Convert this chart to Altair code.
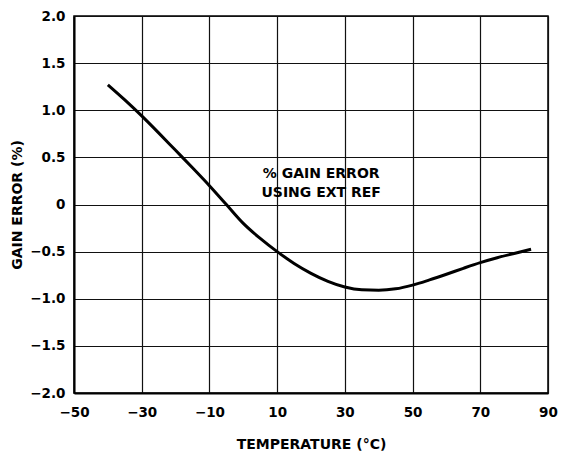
import altair as alt
import pandas as pd

# curve data
temps = [-40, -35, -30, -25, -20, -15, -10, -5, 0, 5, 10, 15, 20, 25, 30, 35, 40,
         45, 50, 55, 60, 65, 70, 75, 80, 85]
gain_err = [1.27, 1.11, 0.94, 0.76, 0.575, 0.39, 0.20, 0.0, -0.20, -0.36, -0.50,
            -0.625, -0.73, -0.815, -0.875, -0.905, -0.91, -0.895, -0.855, -0.80, -0.74,
            -0.677, -0.617, -0.565, -0.52, -0.475]

x_ticks = [-50, -30, -10, 10, 30, 50, 70, 90]
y_ticks = [-2.0, -1.5, -1.0, -0.5, 0.0, 0.5, 1.0, 1.5, 2.0]

note_lines = ["% GAIN ERROR", "USING EXT REF"]
note_x = [23, 23]
note_y = [0.32, 0.12]

FONT = "DejaVu Sans"

df = pd.DataFrame({"t": temps, "g": gain_err})
notes = pd.DataFrame({"text": note_lines, "x": note_x, "y": note_y})

xs = alt.Scale(domain=[-50, 90], nice=False, zero=False)
ys = alt.Scale(domain=[-2.0, 2.0], nice=False, zero=False)

x_axis = alt.Axis(
    values=x_ticks, grid=True, gridColor="#111111", gridWidth=1.2, gridOpacity=1,
    ticks=False, domain=True, domainColor="black", domainWidth=2,
    labelFont=FONT, labelFontWeight="bold", labelFontSize=13.5, labelColor="black",
    labelPadding=12, labelExpr="replace(format(datum.value, 'd'), '-', '–')",
    labelFlush=False, labelOverlap=False,
    title="TEMPERATURE (°C)", titleFont=FONT, titleFontWeight="bold", titleFontSize=14,
    titleColor="black", titleBaseline="alphabetic", titleY=55,
)
y_axis = alt.Axis(
    values=y_ticks, grid=True, gridColor="#111111", gridWidth=1.2, gridOpacity=1,
    ticks=False, domain=True, domainColor="black", domainWidth=2,
    labelFont=FONT, labelFontWeight="bold", labelFontSize=13.5, labelColor="black",
    labelPadding=9,
    labelExpr="datum.value == 0 ? '0' : replace(format(datum.value, '.1f'), '-', '–')",
    labelFlush=False, labelOverlap=False,
    title="GAIN ERROR (%)", titleFont=FONT, titleFontWeight="bold", titleFontSize=14,
    titleColor="black", titleBaseline="middle", titleX=-57,
)

line = alt.Chart(df).mark_line(color="black", strokeWidth=3, interpolate="monotone").encode(
    x=alt.X("t:Q", scale=xs, axis=x_axis),
    y=alt.Y("g:Q", scale=ys, axis=y_axis),
)

text = alt.Chart(notes).mark_text(
    font=FONT, fontWeight="bold", fontSize=14, color="black", align="center",
    baseline="middle",
).encode(
    x=alt.X("x:Q", scale=xs),
    y=alt.Y("y:Q", scale=ys),
    text="text:N",
)

chart = (line + text).properties(
    width=474, height=377,
    autosize=alt.AutoSizeParams(type="none"),
    padding={"left": 66, "top": 8, "right": 11, "bottom": 58},
    background="white",
).configure_view(stroke="black", strokeWidth=1.5)

chart.save("out.html", embed_options={"renderer": "svg", "actions": False})
